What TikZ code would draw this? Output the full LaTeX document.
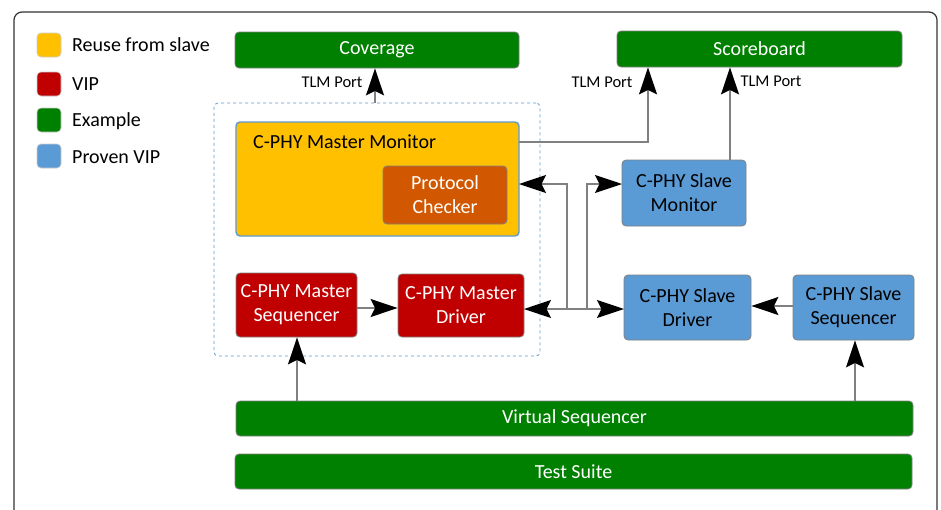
\documentclass[tikz,border=0pt]{standalone}
\usepackage{fontspec}
\setmainfont{Carlito}
\usetikzlibrary{arrows.meta}
\definecolor{cgreen}{RGB}{0,128,0}
\definecolor{cred}{RGB}{192,0,0}
\definecolor{corange}{RGB}{255,192,0}
\definecolor{cblue}{RGB}{91,155,213}
\definecolor{cdorange}{RGB}{209,88,0}
\definecolor{cline}{RGB}{128,128,128}
\tikzset{
  box/.style={draw=cline, line width=0.8pt, rounded corners=4pt, align=center, inner sep=0pt, font=\fontsize{20}{24}\selectfont},
  greenbox/.style={box, fill=cgreen, text=white},
  redbox/.style={box, fill=cred, text=white},
  bluebox/.style={box, fill=cblue, text=black},
  legsq/.style={draw=black!20, line width=0.6pt, rounded corners=4pt, minimum width=24pt, minimum height=24pt, inner sep=0pt},
  legtxt/.style={anchor=west, inner sep=0pt, font=\fontsize{20}{24}\selectfont},
  conn/.style={draw=cline, line width=1.6pt, -{Stealth[length=27pt,width=18pt,inset=4.5pt,color=black]}},
  conn2/.style={draw=cline, line width=1.6pt, {Stealth[length=27pt,width=18pt,inset=4.5pt,color=black]}-{Stealth[length=27pt,width=18pt,inset=4.5pt,color=black]}},
  tlm/.style={inner sep=0pt, font=\fontsize{16.5}{20}\selectfont}
}
\begin{document}
\begin{tikzpicture}[x=1pt,y=-1pt]
\useasboundingbox (0,0) rectangle (941,509);
\clip (0,0) rectangle (941,509);
\fill[white] (0,0) rectangle (941,509);
\draw[black!80, line width=1.2pt, rounded corners=8pt] (14,12) rectangle (937,540);
% legend
\node[legsq, fill=corange] (l1) at (49,45) {};
\node[legsq, fill=cred] (l2) at (49,84) {};
\node[legsq, fill=cgreen] (l3) at (49,120) {};
\node[legsq, fill=cblue] (l4) at (49,156) {};
\node[legtxt] (t1) at (72,45) {Reuse from slave};
\node[legtxt] (t2) at (72,84) {VIP};
\node[legtxt] (t3) at (72,121) {Example};
\node[legtxt] (t4) at (72,157) {Proven VIP};
% boxes
\node[greenbox, minimum width=284pt, minimum height=36pt] (cov) at (377,50) {Coverage};
\node[greenbox, minimum width=285pt, minimum height=36pt] (sb) at (759.5,49) {Scoreboard};
\node[draw=cblue, dashed, line width=0.8pt, rounded corners=4pt, minimum width=326pt, minimum height=253pt, inner sep=0pt] (grp) at (377,229.5) {};
\node[box, draw=cblue, line width=1.4pt, fill=corange, minimum width=283pt, minimum height=114pt] (mmon) at (377.5,179) {};
\node[anchor=west, inner sep=0pt, font=\fontsize{20}{24}\selectfont] (mmonlbl) at (253,142) {C-PHY Master Monitor};
\node[box, fill=cdorange, text=white, minimum width=124pt, minimum height=58pt] (pc) at (445,195) {Protocol\\Checker};
\node[redbox, minimum width=121pt, minimum height=64pt] (mseq) at (296.5,305) {C-PHY Master\\Sequencer};
\node[redbox, minimum width=126pt, minimum height=63pt] (mdrv) at (461,305.5) {C-PHY Master\\Driver};
\node[bluebox, minimum width=124pt, minimum height=66pt] (smon) at (684,193) {C-PHY Slave\\Monitor};
\node[bluebox, minimum width=127pt, minimum height=65pt] (sdrv) at (687.5,307.5) {C-PHY Slave\\Driver};
\node[bluebox, minimum width=121pt, minimum height=65pt] (sseq) at (853.5,307.5) {C-PHY Slave\\Sequencer};
\node[greenbox, minimum width=677pt, minimum height=35pt] (vseq) at (574.5,418.5) {Virtual Sequencer};
\node[greenbox, minimum width=677pt, minimum height=35pt] (ts) at (573.5,471.5) {Test Suite};
% connectors
\coordinate (c1) at (375,103);
\draw[conn] (c1) -- (c1 |- cov.south);
\coordinate (c2) at (519,142);
\coordinate (c2b) at (648,142);
\draw[conn] (c2) -- (c2b) -- (c2b |- sb.south);
\coordinate (c3) at (730,160);
\draw[conn] (c3) -- (c3 |- sb.south);
\node[tlm] (tl1) at (332,82) {TLM Port};
\node[tlm] (tl2) at (602,82) {TLM Port};
\node[tlm] (tl3) at (771,81) {TLM Port};
\coordinate (ja) at (567,309);
\coordinate (jb) at (587,309);
\coordinate (ma) at (519,184);
\coordinate (sa) at (622,184);
\draw[conn] (ja) -- (567,184) -- (ma);
\draw[conn] (jb) -- (587,184) -- (sa);
\coordinate (md) at (524,309);
\coordinate (sd) at (624,309);
\draw[conn2] (md) -- (sd);
\draw[conn] (mseq.east |- 0,308) -- (mdrv.west |- 0,308);
\draw[conn] (sseq.west |- 0,306) -- (sdrv.east |- 0,306);
\coordinate (v1) at (297,401);
\draw[conn] (v1) -- (v1 |- mseq.south);
\coordinate (v2) at (855,401);
\draw[conn] (v2) -- (v2 |- sseq.south);
\end{tikzpicture}
\end{document}
